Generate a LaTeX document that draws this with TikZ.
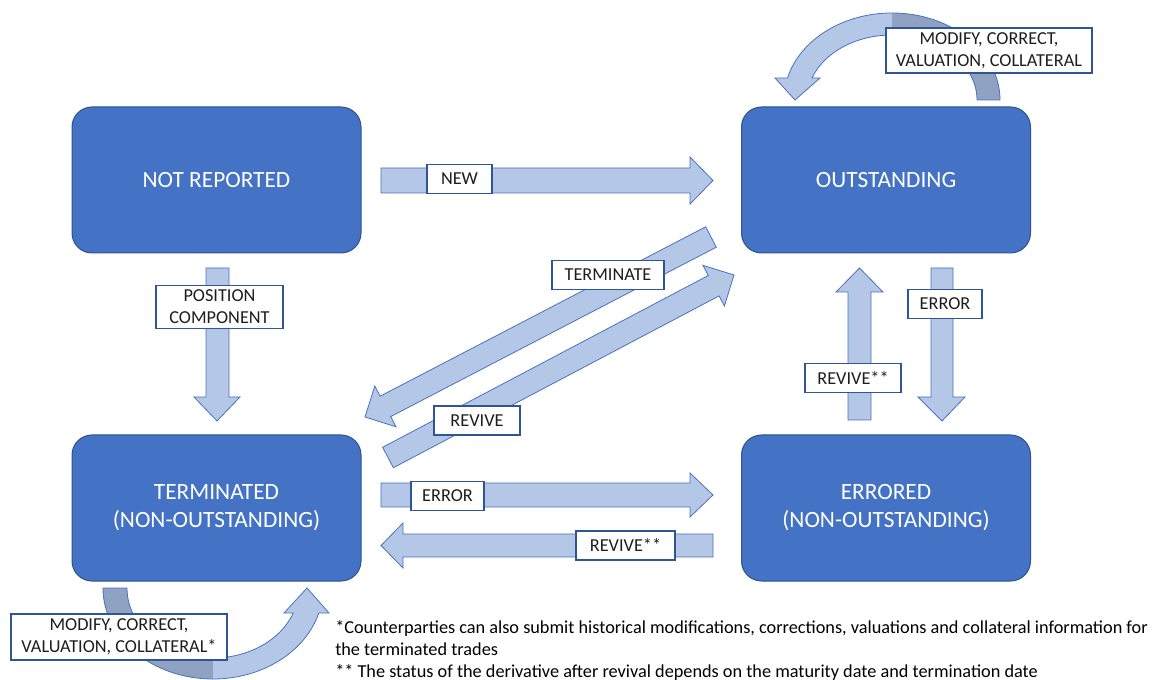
\documentclass[tikz,border=0pt]{standalone}
\usepackage{fontspec}
\setmainfont{Carlito}
\usepackage{tikz}
\tikzset{
  statebox/.style={draw={rgb, 255:red, 47; green, 82; blue, 143 }, fill={rgb, 255:red, 68; green, 114; blue, 196 }, line width=0.75pt, rounded corners=15pt, text=white, align=center, minimum width=216.75pt, minimum height=109.5pt, font=\fontsize{17.5}{21}\selectfont},
  tag/.style={draw={rgb, 255:red, 47; green, 85; blue, 151 }, fill=white, line width=1.2pt, align=center, inner xsep=7pt, inner ysep=3.5pt, minimum height=22pt, text={rgb, 255:red, 30; green, 30; blue, 30 }, font=\fontsize{13.7}{16.5}\selectfont},
  barrow/.style={draw={rgb, 255:red, 72; green, 114; blue, 190 }, fill={rgb, 255:red, 180; green, 199; blue, 231 }, line width=0.6pt, line join=miter},
  barrowdark/.style={fill={rgb, 255:red, 143; green, 162; blue, 194 }},
}

\begin{document}
\begin{tikzpicture}[x=0.75pt,y=0.75pt,yscale=-1,xscale=1]
\useasboundingbox (0,0) rectangle (1153,680);

%Shape: Rounded Rect [NOT REPORTED]
\node[statebox] (notrep) at (216.5,180) {NOT REPORTED};
%Shape: Rounded Rect [OUTSTANDING]
\node[statebox] (outst) at (886,180) {OUTSTANDING};
%Shape: Rounded Rect [TERMINATED]
\node[statebox] (termd) at (216.5,508) {TERMINATED\\(NON-OUTSTANDING)};
%Shape: Rounded Rect [ERRORED]
\node[statebox] (errd) at (886,508) {ERRORED\\(NON-OUTSTANDING)};

%Right Arrow [new]
\draw [barrow] (381,168) -- (690,168) -- (690,157) -- (713,180.5) -- (690,204) -- (690,193) -- (381,193) -- cycle ;
%Right Arrow [error]
\draw [barrow] (381,483) -- (690,483) -- (690,473) -- (713,495) -- (690,517) -- (690,507) -- (381,507) -- cycle ;
%Left Arrow [revive]
\draw [barrow] (713,534) -- (403,534) -- (403,523) -- (381,545.5) -- (403,568) -- (403,557) -- (713,557) -- cycle ;
%Down Arrow [position component]
\draw [barrow] (206,268) -- (229,268) -- (229,397) -- (240,397) -- (217,421) -- (194,397) -- (206,397) -- cycle ;
%Down Arrow [error]
\draw [barrow] (931,268) -- (953,268) -- (953,397) -- (965,397) -- (942,421) -- (918,397) -- (931,397) -- cycle ;
%Up Arrow [revive]
\draw [barrow] (848,420) -- (871,420) -- (871,292) -- (883,292) -- (859.5,268) -- (836,292) -- (848,292) -- cycle ;
%Diagonal Arrow [terminate]
\draw [barrow] (705.7,226.8) -- (716.3,247.2) -- (390.7,416.6) -- (396,426.8) -- (365,417) -- (374.8,386) -- (380.1,396.2) -- cycle ;
%Diagonal Arrow [revive]
\draw [barrow] (382.6,447.3) -- (708.3,275.5) -- (703,265.4) -- (734,275) -- (724.4,306) -- (719.1,295.9) -- (393.4,467.7) -- cycle ;

%Curved Arrow [top]
\fill [barrow, draw=none] (892,13) .. controls (842.9,13) and (799.9,39.7) .. (787.5,78) -- (775,78) -- (795,100) -- (820,78) -- (812,78) .. controls (824.1,52.2) and (856.2,35) .. (892,35) -- cycle ;
\fill [barrowdark] (1000,100) .. controls (1000,52) and (951.6,13) .. (892,13) -- (892,35) .. controls (938.9,35) and (977,64.1) .. (977,100) -- cycle ;
\draw [barrow, fill=none] (1000,100) .. controls (1000,52) and (951.6,13) .. (892,13) .. controls (842.9,13) and (799.9,39.7) .. (787.5,78) -- (775,78) -- (795,100) -- (820,78) -- (812,78) .. controls (824.1,52.2) and (856.2,35) .. (892,35) .. controls (938.9,35) and (977,64.1) .. (977,100) -- cycle ;
%Curved Arrow [bottom]
\fill [barrowdark] (103,588) .. controls (103,638.3) and (152.2,679) .. (213,679) -- (213,658) .. controls (165.5,658) and (127,626.7) .. (127,588) -- cycle ;
\fill [barrow, draw=none] (213,679) .. controls (262.1,679) and (305.3,652.1) .. (318.8,613) -- (329,613) -- (307,588) -- (284,613) -- (293.3,613) .. controls (280.6,640.1) and (248.7,658) .. (213,658) -- cycle ;
\draw [barrow, fill=none] (103,588) .. controls (103,638.3) and (152.2,679) .. (213,679) .. controls (262.1,679) and (305.3,652.1) .. (318.8,613) -- (329,613) -- (307,588) -- (284,613) -- (293.3,613) .. controls (280.6,640.1) and (248.7,658) .. (213,658) .. controls (165.5,658) and (127,626.7) .. (127,588) -- cycle ;

%Text Nodes
\node[tag, minimum width=48.75pt] (lblnew) at (459.5,179) {NEW};
\node[tag, minimum width=95.25pt] (lblpos) at (219.5,307) {POSITION\\COMPONENT};
\node[tag, minimum width=84pt] (lblterm) at (608,275) {TERMINATE};
\node[tag, minimum width=64.5pt] (lblrev) at (477,420.5) {REVIVE};
\node[tag, minimum width=55.5pt] (lblerr) at (945,304) {ERROR};
\node[tag, minimum width=72pt] (lblrevup) at (853,378) {REVIVE**};
\node[tag, minimum width=54.75pt] (lblerrh) at (447.5,496) {ERROR};
\node[tag, minimum width=74.25pt] (lblrevh) at (625.5,545.5) {REVIVE**};
\node[tag, minimum width=154.5pt] (lblmodtop) at (989,50.5) {MODIFY, CORRECT,\\VALUATION, COLLATERAL};
\node[tag, minimum width=162pt] (lblmodbot) at (119,637) {MODIFY, CORRECT,\\VALUATION, COLLATERAL*};

%Footnote
\node[anchor=north west, inner sep=0pt, align=left, font=\fontsize{13.7}{16.5}\selectfont] (fnote) at (335,620) {*Counterparties can also submit historical modifications, corrections, valuations and collateral information for\\the terminated trades\\** The status of the derivative after revival depends on the maturity date and termination date};

\end{tikzpicture}
\end{document}
